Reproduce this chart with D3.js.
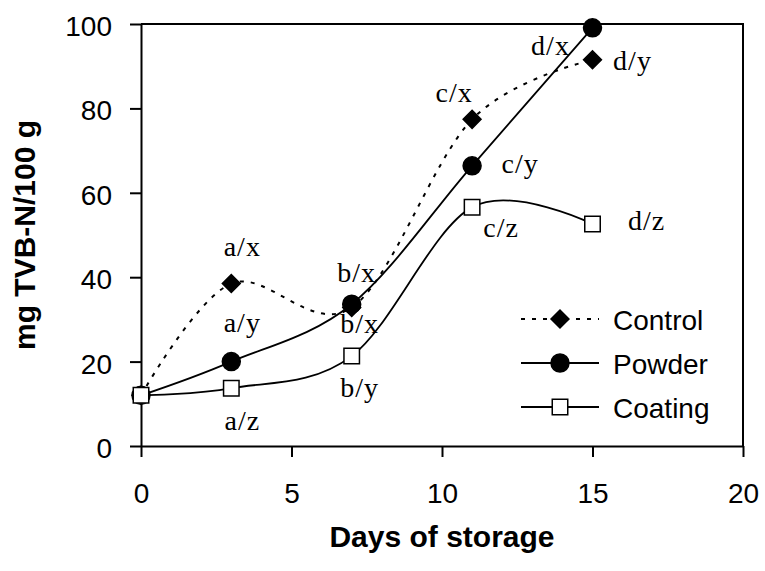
<!DOCTYPE html>
<html><head><meta charset="utf-8">
<script src="https://cdn.jsdelivr.net/npm/d3@7"></script>
<style>body{margin:0;background:#fff} svg{display:block}</style>
</head><body>
<svg id="chart" width="765" height="571"></svg>
<script>
// TVB-N content over storage time for three treatments
const days = [0, 3, 7, 11, 15];
const controlValues = [12, 38.5, 32.8, 77.4, 91.5];
const powderValues  = [12, 20.0, 33.6, 66.4, 99.1];
const coatingValues = [12, 13.7, 21.3, 56.6, 52.6];
const controlLetters = ["", "a/x", "b/x", "c/x", "d/y"];
const powderLetters  = ["", "a/y", "b/x", "c/y", "d/x"];
const coatingLetters = ["", "a/z", "b/y", "c/z", "d/z"];
const seriesNames = ["Control", "Powder", "Coating"];
const xTickValues = [0, 5, 10, 15, 20];
const yTickValues = [0, 20, 40, 60, 80, 100];

// pixel nudges for the significance letters, [dx, dy] from each point
const controlLabelOffsets = [null, [11, -28], [5, -26], [-18, -17], [40, 10]];
const powderLabelOffsets  = [null, [11, -30], [8, 29], [48, 7], [-42, 27]];
const coatingLabelOffsets = [null, [11, 42], [8, 41], [29, 30], [54, 6]];

const svg = d3.select("#chart");
const plotLeft = 141, plotRight = 743, plotTop = 24, plotBottom = 446;
const x = d3.scaleLinear().domain([0, 20]).range([plotLeft, plotRight]);
const y = d3.scaleLinear().domain([0, 100]).range([plotBottom, plotTop]);

const sans = "'Liberation Sans', Arial, sans-serif";
const serif = "'Liberation Serif', 'Times New Roman', serif";

// frame: top and right edges of the plot area
svg.append("path")
  .attr("d", `M${plotLeft},${plotTop}H${plotRight}V${plotBottom}`)
  .attr("fill", "none").attr("stroke", "#000").attr("stroke-width", 2);

// axes
const xAxis = svg.append("g").attr("transform", `translate(0,${plotBottom})`)
  .call(d3.axisBottom(x).tickValues(xTickValues).tickSize(11).tickSizeOuter(0).tickPadding(26));
const yAxis = svg.append("g").attr("transform", `translate(${plotLeft},0)`)
  .call(d3.axisLeft(y).tickValues(yTickValues).tickSize(11).tickSizeOuter(0).tickPadding(18));
[xAxis, yAxis].forEach(g => {
  g.select(".domain").attr("stroke-width", 2);
  g.selectAll(".tick line").attr("stroke-width", 2);
  g.selectAll(".tick text").attr("font-family", sans).attr("font-size", 28).attr("fill", "#000");
});
yAxis.selectAll(".tick text").attr("dy", "0.41em");

// axis titles
svg.append("text").attr("x", (plotLeft + plotRight) / 2).attr("y", 547)
  .attr("text-anchor", "middle").attr("font-family", sans).attr("font-weight", "bold")
  .attr("font-size", 30).text("Days of storage");
svg.append("text").attr("transform", `translate(35,${(plotTop + plotBottom) / 2}) rotate(-90)`)
  .attr("text-anchor", "middle").attr("font-family", sans).attr("font-weight", "bold")
  .attr("font-size", 30).text("mg TVB-N/100 g");

const series = [
  { name: seriesNames[0], values: controlValues, letters: controlLetters, offsets: controlLabelOffsets,
    dash: "4,7", width: 2, symbol: d3.symbolSquare, size: 160, rotate: 45, fill: "#000" },
  { name: seriesNames[1], values: powderValues, letters: powderLetters, offsets: powderLabelOffsets,
    dash: null, width: 1.8, symbol: d3.symbolCircle, size: 254, rotate: 0, fill: "#000" },
  { name: seriesNames[2], values: coatingValues, letters: coatingLetters, offsets: coatingLabelOffsets,
    dash: null, width: 1.8, symbol: d3.symbolSquare, size: 240, rotate: 0, fill: "#fff" }
];

const line = d3.line().x(d => x(d[0])).y(d => y(d[1])).curve(d3.curveCardinal.tension(0));

series.forEach(s => {
  const pts = days.map((d, i) => [d, s.values[i]]);
  svg.append("path").attr("d", line(pts)).attr("fill", "none")
    .attr("stroke", "#000").attr("stroke-width", s.width)
    .attr("stroke-dasharray", s.dash);
  svg.append("g").selectAll("path").data(pts).join("path")
    .attr("d", d3.symbol(s.symbol, s.size)())
    .attr("transform", d => `translate(${x(d[0])},${y(d[1])}) rotate(${s.rotate})`)
    .attr("fill", s.fill).attr("stroke", "#000").attr("stroke-width", 1.5);
});

// significance letters
series.forEach(s => {
  svg.append("g").selectAll("text").data(days.map((d, i) => i).filter(i => s.letters[i]))
    .join("text")
    .attr("x", i => x(days[i]) + s.offsets[i][0])
    .attr("y", i => y(s.values[i]) + s.offsets[i][1])
    .attr("text-anchor", "middle").attr("font-family", serif).attr("font-size", 28)
    .attr("letter-spacing", 1)
    .text(i => s.letters[i]);
});

// legend
const legend = svg.append("g").attr("transform", "translate(521,319)");
series.forEach((s, i) => {
  const g = legend.append("g").attr("transform", `translate(0,${i * 44})`);
  g.append("line").attr("x1", 0).attr("x2", 78).attr("stroke", "#000")
    .attr("stroke-width", s.width).attr("stroke-dasharray", s.dash);
  g.append("path").attr("d", d3.symbol(s.symbol, s.size)())
    .attr("transform", `translate(39,0) rotate(${s.rotate})`)
    .attr("fill", s.fill).attr("stroke", "#000").attr("stroke-width", 1.5);
  g.append("text").attr("x", 92).attr("y", 11).attr("font-family", sans)
    .attr("font-size", 28).text(s.name);
});
</script>
</body></html>
